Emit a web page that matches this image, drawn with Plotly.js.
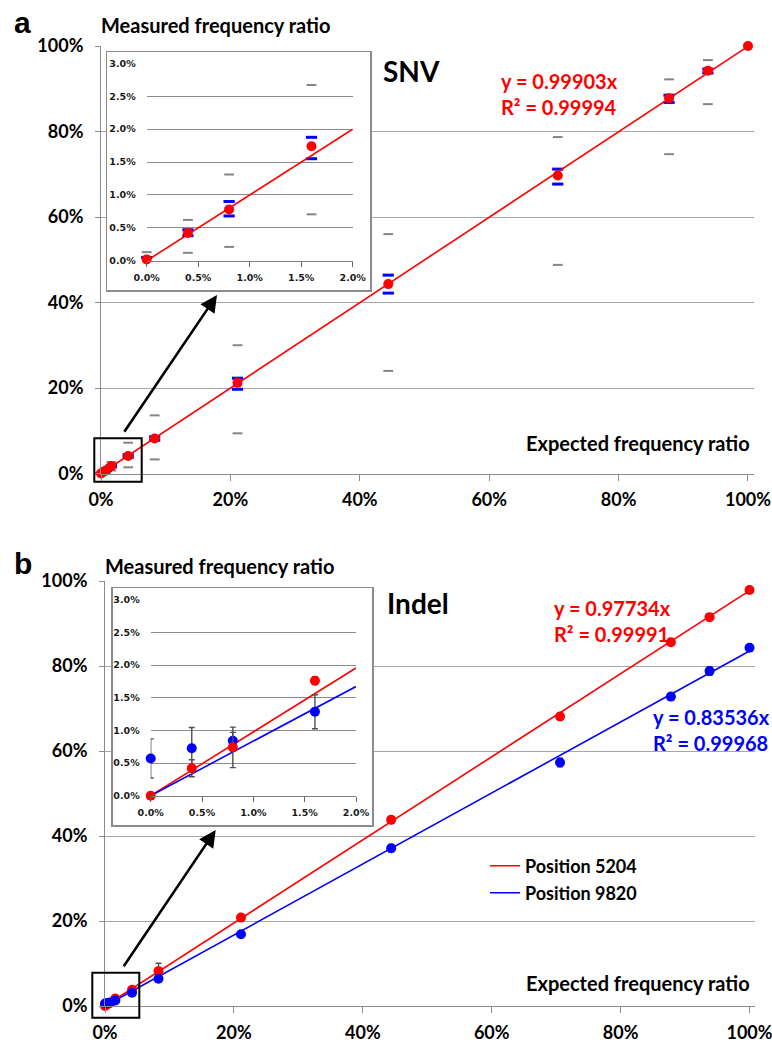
<!DOCTYPE html>
<html><head><meta charset="utf-8">
<script src="https://cdn.plot.ly/plotly-3.0.1.min.js"></script>
<style>html,body{margin:0;padding:0;background:#fff;}#chart{width:772px;height:1042px;}</style>
</head><body><div id="chart"></div>
<script>
// ---------------- data ----------------
const expected = [0, 0.4, 0.8, 1.6, 4.2, 8.3, 21.1, 44.4, 70.6, 87.8, 93.8, 100];

// panel a: SNV
const snvMeasured = [0.02, 0.42, 0.78, 1.74, 4.1, 8.2, 21.2, 44.3, 69.7, 87.8, 94.2, 100];
const snvRangeHigh = [0.13, 0.62, 1.31, 2.67, 7.2, 13.6, 30.0, 56.0, 78.7, 92.2, 96.7, null];
const snvRangeLow = [null, 0.12, 0.21, 0.705, 1.45, 3.3, 9.4, 24.0, 48.8, 74.7, 86.4, null];
const snvSdHigh = [0.05, 0.47, 0.90, 1.875, 4.4, 8.6, 22.3, 46.4, 71.2, 88.5, 94.6, null];
const snvSdLow = [null, 0.38, 0.68, 1.55, 3.8, 7.8, 19.7, 42.2, 67.7, 86.8, 93.7, null];
const slopeSnv = 0.99903, r2Snv = 0.99994;

// panel b: Indel
const pos5204 = [0, 0.42, 0.74, 1.76, 3.8, 8.2, 20.8, 43.8, 68.1, 85.6, 91.5, 97.9];
const pos5204Err = [0, 0.13, 0.31, 0.06, 0.3, 1.85, 0.7, 0.6, 0.8, 0.4, 0.8, 0.3];
const pos9820 = [0.57, 0.725, 0.84, 1.285, 3.1, 6.4, 16.9, 37.1, 57.3, 72.8, 78.8, 84.3];
const pos9820Err = [0.3, 0.32, 0.13, 0.26, 0.2, 0.3, 0.3, 0.9, 1.0, 0.4, 1.0, 0.3];
const slope5204 = 0.97734, r2_5204 = 0.99991;
const slope9820 = 0.83536, r2_9820 = 0.99968;

// ticks
const mainTicks = [0, 20, 40, 60, 80, 100];
const mainTickText = ['0%', '20%', '40%', '60%', '80%', '100%'];
const insetXTicks = [0, 0.5, 1, 1.5, 2];
const insetXTickText = ['0.0%', '0.5%', '1.0%', '1.5%', '2.0%'];
const insetYTicks = [0, 0.5, 1, 1.5, 2, 2.5, 3];
const insetYTickText = ['0.0%', '0.5%', '1.0%', '1.5%', '2.0%', '2.5%', '3.0%'];
const insetXRange = [0, 2];
const insetYRange = [0, 3];

// ---------------- helpers ----------------
const W = 772, H = 1042;
const px = v => v / W, py = v => 1 - v / H;
const RED = '#ff0000', BLUE = '#0000ff', GRAY = '#858585';
const insetIdx = expected.map((v, i) => i).filter(i => expected[i] <= insetXRange[1]);
const pick = (arr, idx) => idx.map(i => arr[i]);
const allIdx = expected.map((v, i) => i);
const fitX = xmax => [0, xmax];

const traces = [];
function dash(x, y, xa, ya, color, size, lw) {
  traces.push({type: 'scatter', mode: 'markers', x, y, xaxis: xa, yaxis: ya,
    marker: {symbol: 'line-ew', size, color, line: {color, width: lw}},
    cliponaxis: false, showlegend: false, hoverinfo: 'skip'});
}
function fit(slope, xmax, xa, ya, color, name, legend) {
  const xs = fitX(xmax);
  const t = {type: 'scatter', mode: 'lines', x: xs, y: xs.map(v => v * slope), xaxis: xa, yaxis: ya,
    line: {color, width: 1.6}, cliponaxis: false, hoverinfo: 'skip', showlegend: !!name};
  if (name) { t.name = name; t.legend = legend; }
  traces.push(t);
}
function pts(idx, yArr, errArr, xa, ya, color, size) {
  const t = {type: 'scatter', mode: 'markers', x: pick(expected, idx), y: pick(yArr, idx), xaxis: xa, yaxis: ya,
    marker: {size, color}, cliponaxis: false, showlegend: false, hoverinfo: 'skip'};
  if (errArr) t.error_y = {type: 'data', array: pick(errArr, idx), visible: true, color: '#505050', thickness: 1.4, width: 3};
  traces.push(t);
}
function snvSet(idx, xa, ya, xmax) {
  dash(pick(expected, idx), pick(snvRangeHigh, idx), xa, ya, GRAY, 7, 2);
  dash(pick(expected, idx), pick(snvRangeLow, idx), xa, ya, GRAY, 7, 2);
  dash(pick(expected, idx), pick(snvSdHigh, idx), xa, ya, BLUE, 8, 3);
  dash(pick(expected, idx), pick(snvSdLow, idx), xa, ya, BLUE, 8, 3);
  fit(slopeSnv, xmax, xa, ya, RED);
  pts(idx, snvMeasured, null, xa, ya, RED, 10);
}

// panel a
snvSet(allIdx, 'x', 'y', Math.max(...expected));
traces.push({type: 'scatter', x: [], y: [], xaxis: 'x2', yaxis: 'y2', showlegend: false, hoverinfo: 'skip'});
snvSet(insetIdx, 'x3', 'y3', insetXRange[1]);

// panel b
fit(slope5204, Math.max(...expected), 'x4', 'y4', RED, 'Position 5204', 'legend');
fit(slope9820, Math.max(...expected), 'x4', 'y4', BLUE, 'Position 9820', 'legend2');
pts(allIdx, pos5204, pos5204Err, 'x4', 'y4', RED, 10);
pts(allIdx, pos9820, pos9820Err, 'x4', 'y4', BLUE, 10);
traces.push({type: 'scatter', x: [], y: [], xaxis: 'x5', yaxis: 'y5', showlegend: false, hoverinfo: 'skip'});
fit(slope5204, insetXRange[1], 'x6', 'y6', RED);
fit(slope9820, insetXRange[1], 'x6', 'y6', BLUE);
pts(insetIdx, pos9820, pos9820Err, 'x6', 'y6', BLUE, 10);
pts(insetIdx, pos5204, pos5204Err, 'x6', 'y6', RED, 10);

// ---------------- layout ----------------
const mainFont = {family: 'Lato, sans-serif', size: 18, weight: 'bold', color: '#000'};
const insetFont = {family: 'DejaVu Sans, sans-serif', size: 9.5, weight: 'bold', color: '#1a1a1a'};
const AXC = '#8c8c8c';

function mainX(d0, d1, r1, anchor) {
  return {domain: [px(d0), px(d1)], range: [0, r1], anchor, tickvals: mainTicks, ticktext: mainTickText,
    ticks: 'outside', ticklen: 6, tickcolor: AXC, showline: true, linecolor: AXC, linewidth: 1,
    showgrid: false, zeroline: false, tickfont: mainFont, ticklabelstandoff: 4,
    ticklabeloverflow: 'allow', fixedrange: true};
}
function mainY(d0, d1, anchor) {
  return {domain: [py(d0), py(d1)], range: [0, 100], anchor, tickvals: mainTicks, ticktext: mainTickText,
    ticks: 'outside', ticklen: 5, tickcolor: AXC, showline: true, linecolor: AXC, linewidth: 1,
    showgrid: true, gridcolor: '#a6a6a6', gridwidth: 1, zeroline: false, tickfont: mainFont,
    ticklabelstandoff: 8, ticklabeloverflow: 'allow', fixedrange: true};
}
function boxAx(d, anchor, isY) {
  return {domain: isY ? [py(d[1]), py(d[0])] : [px(d[0]), px(d[1])], range: [0, 1], anchor,
    showline: true, mirror: true, linecolor: '#8c8c8c', linewidth: 1.5, showticklabels: false,
    showgrid: false, zeroline: false, ticks: '', fixedrange: true};
}
function insetX(d0, d1, anchor) {
  return {domain: [px(d0), px(d1)], range: insetXRange, anchor, tickvals: insetXTicks, ticktext: insetXTickText,
    ticks: 'outside', ticklen: 5, tickcolor: '#666', showline: true, linecolor: '#7f7f7f', linewidth: 1,
    showgrid: false, zeroline: false, tickfont: insetFont, ticklabelstandoff: 3,
    ticklabeloverflow: 'allow', fixedrange: true};
}
function insetY(d0, d1, anchor) {
  return {domain: [py(d0), py(d1)], range: insetYRange, anchor, tickvals: insetYTicks, ticktext: insetYTickText,
    ticks: '', showline: false, showgrid: true, gridcolor: '#8c8c8c', gridwidth: 1, zeroline: false,
    tickfont: insetFont, ticklabelstandoff: 10, ticklabeloverflow: 'allow', fixedrange: true};
}

const txt = (t, x, y, font, xanchor) => ({text: t, x: px(x), y: py(y), xref: 'paper', yref: 'paper',
  xanchor: xanchor || 'left', yanchor: 'middle', showarrow: false, font, align: 'left'});
const eqFont = c => ({family: 'Lato, sans-serif', size: 20, weight: 'bold', color: c});
const labelFont = {family: 'Lato, sans-serif', size: 20, weight: 'bold', color: '#000'};
const bigFont = {family: 'Lato, sans-serif', size: 28, weight: 'bold', color: '#000'};
const panelFont = {family: 'Liberation Sans, Arial, sans-serif', size: 30, weight: 'bold', color: '#000'};
const arrow = (hx, hy, tx, ty) => ({text: '', x: px(hx), y: py(hy), xref: 'paper', yref: 'paper',
  ax: tx - hx, ay: ty - hy, showarrow: true, arrowhead: 2, arrowsize: 1.3, arrowwidth: 2.6, arrowcolor: '#000'});
const eq = (s, r) => 'y = ' + s.toFixed(5) + 'x<br>R² = ' + r.toFixed(5);

const layout = {
  width: W, height: H, margin: {l: 0, r: 0, t: 0, b: 0},
  paper_bgcolor: '#ffffff', plot_bgcolor: 'white',
  xaxis: mainX(101, 754, 100.93, 'y'),
  yaxis: mainY(473.5, 46, 'x'),
  xaxis2: boxAx([107, 370], 'y2', false),
  yaxis2: boxAx([52, 290], 'x2', true),
  xaxis3: insetX(146.7, 352.7, 'y3'),
  yaxis3: insetY(260.7, 63.3, 'x3'),
  xaxis4: mainX(105, 755, 100.85, 'y4'),
  yaxis4: mainY(1006, 581, 'x4'),
  xaxis5: boxAx([112.7, 372], 'y5', false),
  yaxis5: boxAx([588.3, 825], 'x5', true),
  xaxis6: insetX(150.7, 356, 'y6'),
  yaxis6: insetY(795.7, 599.7, 'x6'),
  legend: {x: px(485), y: py(866), xanchor: 'left', yanchor: 'middle', bgcolor: 'rgba(0,0,0,0)',
    font: mainFont, itemwidth: 30, borderwidth: 0},
  legend2: {x: px(485), y: py(893), xanchor: 'left', yanchor: 'middle', bgcolor: 'rgba(0,0,0,0)',
    font: mainFont, itemwidth: 30, borderwidth: 0},
  shapes: [
    {type: 'rect', xref: 'paper', yref: 'paper', x0: px(94.3), x1: px(141.7), y0: py(481.7), y1: py(438.3),
      line: {color: '#000', width: 2}, fillcolor: 'rgba(0,0,0,0)', layer: 'above'},
    {type: 'rect', xref: 'paper', yref: 'paper', x0: px(92.3), x1: px(139.3), y0: py(1017.7), y1: py(972.7),
      line: {color: '#000', width: 2}, fillcolor: 'rgba(0,0,0,0)', layer: 'above'}
  ],
  annotations: [
    txt('a', 12, 22, panelFont),
    txt('Measured frequency ratio', 99, 25, labelFont),
    txt('SNV', 381, 71, bigFont),
    txt(eq(slopeSnv, r2Snv), 499, 94, eqFont(RED)),
    txt('Expected frequency ratio', 752, 443, labelFont, 'right'),
    arrow(217, 295, 123.3, 433.3),
    txt('b', 12, 563, panelFont),
    txt('Measured frequency ratio', 103, 566, labelFont),
    txt('Indel', 385, 603, bigFont),
    txt(eq(slope5204, r2_5204), 552, 621, eqFont(RED)),
    txt(eq(slope9820, r2_9820), 651, 730, eqFont(BLUE)),
    txt('Expected frequency ratio', 752, 983, labelFont, 'right'),
    arrow(215.7, 830, 122.7, 967.7)
  ]
};

Plotly.newPlot('chart', traces, layout, {staticPlot: true, displayModeBar: false});
</script>
</body></html>
